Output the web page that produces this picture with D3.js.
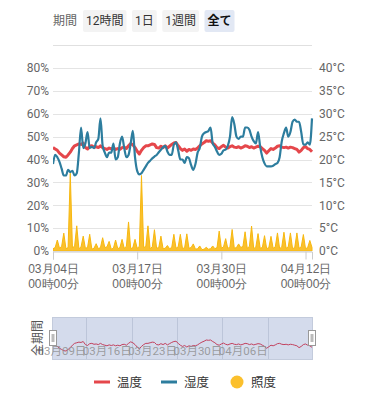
<!DOCTYPE html>
<html><head><meta charset="utf-8">
<script src="https://cdn.jsdelivr.net/npm/d3@7"></script>
<style>
html,body{margin:0;padding:0;background:#fff;}
svg{display:block;font-family:Roboto,"Noto Sans CJK JP",sans-serif;}
</style></head><body>
<svg id="c" width="369" height="400"></svg>
<script>
// ---------------- data ----------------
const periodLabel = "期間";
const periodButtons = ["12時間", "1日", "1週間", "全て"];
const activeButton = "全て";
const startTime = new Date(2024, 2, 4, 0, 0);
const stepHours = 8;
const temperature = [
  22.6,22.3,22.0,21.4,21.0,20.6,20.5,21.0,21.6,22.4,
  23.0,23.2,23.4,23.3,23.6,22.6,22.3,22.9,23.0,22.7,
  22.8,22.6,23.0,22.6,22.4,22.2,22.5,22.3,22.5,22.2,
  22.4,22.2,22.6,22.7,22.4,23.0,23.5,23.2,22.6,21.8,
  21.2,22.0,22.6,23.0,23.0,23.2,23.4,23.3,22.6,22.5,
  22.9,22.6,23.0,22.5,22.9,23.3,23.6,23.7,23.0,22.4,
  22.0,22.3,21.8,22.2,22.0,22.3,22.2,22.5,23.0,23.4,
  23.7,24.1,24.0,24.1,23.6,23.2,22.6,22.4,22.8,23.1,
  22.7,22.5,22.8,23.0,22.7,22.6,22.8,22.5,22.7,23.0,
  22.9,22.6,22.8,22.5,22.7,22.9,22.8,22.4,22.0,21.4,
  21.9,22.4,22.2,22.5,22.9,23.0,22.7,22.6,22.7,22.5,
  22.7,22.6,22.4,22.2,21.6,22.0,22.6,22.8,22.4,22.2,
  21.7];
const humidity = [
  38,42,41,39,36,33,33,35.5,34.5,35,
  33,34,43,54,45,47,52,45,45.5,45,
  47.5,49,58,46,43,41,43,43,47,40,
  41,47,50,45,41,42,47,52.5,41,35,
  33.5,34,35.5,37,38.5,39.5,40.5,41.3,42,43.2,
  44.3,45.3,46,43.5,42,42,46.5,47.5,44,40,
  40,38.5,41,40.5,37.5,35.5,38,43,45,50,
  51.5,52,52.5,54,47,45.5,43.5,42,42.5,44,
  44.3,46,50,58.5,55.5,50,49,50,50,54,
  54,53,50,48,47,52,45.5,41,38.3,37,
  37,37,37.3,38,38.5,41,48,51.5,54,50,
  52,56.5,57.4,56.5,56.5,52,46.5,46.5,47.5,46.5,
  58];
const illuminance = [
  1.0,1.5,4.8, 1.2,2.0,7.8, 1.0,1.5,34, 1.5,2.0,11, 1.0,1.8,6.5,
  1.2,1.5,7.3, 0.8,1.2,3.2, 1.0,1.5,5.8, 1.5,1.8,4.2, 0.8,1.2,4.8,
  1.0,1.5,5.1, 1.2,2.0,12.7, 1.0,1.5,5.1, 1.2,2.0,33, 1.5,2.0,11,
  1.0,1.8,9.3, 1.2,1.5,6.5, 1.0,1.2,2.4, 1.0,1.5,7.3, 1.2,1.8,7.3,
  1.0,1.5,7.5, 1.2,1.5,3.1, 0.8,1.0,2.2, 0.6,0.8,1.6, 0.8,1.0,2.2,
  1.0,1.5,8.7, 1.2,1.8,5.4, 1.0,2.0,9.4, 1.2,1.5,3.1, 1.5,2.0,8.4,
  1.2,2.0,10.9, 1.0,1.8,7.6, 1.2,1.5,6.7, 1.0,1.5,6.4, 1.2,1.8,7.9,
  1.0,1.8,8.2, 1.2,1.8,7.9, 1.0,1.5,7.9, 1.2,1.8,7.2, 1.0,1.5,4.6,
  1.5];
const xTickDates = [new Date(2024,2,4), new Date(2024,2,17), new Date(2024,2,30), new Date(2024,3,12)];
const leftTicks = [0,10,20,30,40,50,60,70,80];
const rightTicks = [0,5,10,15,20,25,30,35,40];
const sliderTickDates = [new Date(2024,2,9), new Date(2024,2,16), new Date(2024,2,23), new Date(2024,2,30), new Date(2024,3,6)];
const sliderName = "全期間";
const legendNames = ["温度", "湿度", "照度"];

// ---------------- layout ----------------
const C_TEMP = "#e5474b", C_HUM = "#2d7d9e", C_ILL = "#fbc02d";
const svg = d3.select("#c");
const times = temperature.map((_, i) => new Date(+startTime + i * stepHours * 3600e3));
const endTime = times[times.length - 1];
const L = 53, R = 312, T = 68, B = 251;
const x = d3.scaleTime().domain([startTime, endTime]).range([L, R]);
const yL = d3.scaleLinear().domain([0, 80]).range([B, T]);
const yR = d3.scaleLinear().domain([0, 40]).range([B, T]);

// period buttons
svg.append("text").attr("x", 53).attr("y", 21).attr("dominant-baseline", "central")
  .attr("font-size", 12).attr("fill", "#666").text(periodLabel);
let bx = 83;
periodButtons.forEach(lbl => {
  const g = svg.append("g");
  const active = lbl === activeButton;
  const rect = g.append("rect").attr("y", 10).attr("height", 22).attr("rx", 2)
    .attr("fill", active ? "#e2e8f4" : "#f3f3f3");
  const t = g.append("text").attr("y", 21).attr("dominant-baseline", "central")
    .attr("font-size", 12).attr("font-weight", active ? "bold" : "normal")
    .attr("fill", active ? "#111" : "#333").text(lbl);
  const tw = t.node().getComputedTextLength();
  rect.attr("x", bx).attr("width", tw + 6);
  t.attr("x", bx + 3);
  bx += tw + 6 + 5.5;
});
svg.append("line").attr("x1", 53).attr("x2", 312).attr("y1", 45.5).attr("y2", 45.5)
  .attr("stroke", "#e0e0e0").attr("stroke-width", 1);

// grid
svg.append("g").selectAll("line").data(leftTicks).join("line")
  .attr("x1", L).attr("x2", R)
  .attr("y1", d => Math.round(yL(d)) + 0.5).attr("y2", d => Math.round(yL(d)) + 0.5)
  .attr("stroke", "#e4e4e4").attr("stroke-width", 1);

// axes
const axL = svg.append("g").attr("transform", `translate(${L},0)`)
  .call(d3.axisLeft(yL).tickValues(leftTicks).tickSize(0).tickPadding(4).tickFormat(d => d + "%"));
const axR = svg.append("g").attr("transform", `translate(${R},0)`)
  .call(d3.axisRight(yR).tickValues(rightTicks).tickSize(0).tickPadding(7).tickFormat(d => d + "°C"));
[axL, axR].forEach(a => {
  a.select(".domain").remove();
  a.selectAll("text").attr("font-size", 12).attr("fill", "#666")
    .attr("font-family", "Roboto, 'Noto Sans CJK JP', sans-serif");
});
const axB = svg.append("g").attr("transform", `translate(0,${B + 0.5})`)
  .call(d3.axisBottom(x).tickValues(xTickDates).tickSize(8).tickFormat(""));
axB.select(".domain").attr("stroke", "#ccc");
axB.selectAll(".tick line").attr("stroke", "#ccc");
const fmt1 = d3.timeFormat("%m月%d日"), fmt2 = d3.timeFormat("%H時%M分");
axB.selectAll(".tick").each(function(d) {
  const g = d3.select(this);
  g.append("text").attr("y", 17).attr("dominant-baseline", "central").attr("text-anchor", "middle")
    .attr("font-size", 12).attr("fill", "#666").text(fmt1(d));
  g.append("text").attr("y", 32.5).attr("dominant-baseline", "central").attr("text-anchor", "middle")
    .attr("font-size", 12).attr("fill", "#666").text(fmt2(d));
});

// series
svg.append("clipPath").attr("id", "clip").append("rect")
  .attr("x", L).attr("y", T - 10).attr("width", R - L + 2).attr("height", B - T + 10);
const plot = svg.append("g").attr("clip-path", "url(#clip)");
const area = d3.area().x((d, i) => x(times[i])).y0(yL(0)).y1(d => yL(d));
plot.append("path").datum(illuminance).attr("d", area)
  .attr("fill", C_ILL).attr("stroke", "#f7b80f").attr("stroke-width", 1);
const lineT = d3.line().x((d, i) => x(times[i])).y(d => yR(d));
plot.append("path").datum(temperature).attr("d", lineT)
  .attr("fill", "none").attr("stroke", C_TEMP).attr("stroke-width", 3).attr("stroke-linejoin", "round");
const lineH = d3.line().x((d, i) => x(times[i])).y(d => yL(d)).curve(d3.curveMonotoneX);
plot.append("path").datum(humidity).attr("d", lineH)
  .attr("fill", "none").attr("stroke", C_HUM).attr("stroke-width", 2.2).attr("stroke-linejoin", "round");

// data zoom slider
const sT = 317, sB = 359;
svg.append("rect").attr("x", L - 0.5).attr("y", sT + 0.5).attr("width", R - L + 1).attr("height", sB - sT)
  .attr("fill", "#d4dbec").attr("stroke", "#c3cbdc");
svg.append("g").selectAll("line").data(sliderTickDates).join("line")
  .attr("x1", d => Math.round(x(d)) + 1.5).attr("x2", d => Math.round(x(d)) + 1.5)
  .attr("y1", sT + 1).attr("y2", sB).attr("stroke", "#bcc5d9");
const ys = d3.scaleLinear().domain(d3.extent(temperature)).range([351, 340]);
svg.append("path").datum(temperature)
  .attr("d", d3.line().x((d, i) => x(times[i])).y(d => ys(d)))
  .attr("fill", "none").attr("stroke", "#c2415e").attr("stroke-width", 1);
svg.append("g").selectAll("text").data(sliderTickDates).join("text")
  .attr("x", d => x(d) + 1).attr("y", 351).attr("text-anchor", "end").attr("dominant-baseline", "central")
  .attr("font-size", 11.5).attr("fill", "#8f8f8f").attr("fill-opacity", 0.85).text(d => fmt1(d));
svg.append("text").attr("transform", "translate(38,338) rotate(-90)")
  .attr("text-anchor", "middle").attr("dominant-baseline", "central")
  .attr("font-size", 12).attr("fill", "#555").text(sliderName);
[L, R].forEach(hx => {
  const g = svg.append("g").attr("transform", `translate(${hx},338)`);
  g.append("rect").attr("x", -3.5).attr("y", -7.5).attr("width", 7).attr("height", 15)
    .attr("fill", "#fff").attr("stroke", "#999").attr("stroke-width", 1);
  g.append("rect").attr("x", -1.5).attr("y", -4).attr("width", 3).attr("height", 8)
    .attr("fill", "#bbb");
});

// legend
const lg = svg.append("g");
const legendX = [94, 161, 229];
legendNames.forEach((name, i) => {
  const lx = legendX[i];
  if (i < 2) {
    lg.append("line").attr("x1", lx).attr("x2", lx + 16).attr("y1", 382).attr("y2", 382)
      .attr("stroke", i === 0 ? C_TEMP : C_HUM).attr("stroke-width", 3);
  } else {
    lg.append("circle").attr("cx", lx + 8).attr("cy", 382).attr("r", 6.5).attr("fill", C_ILL);
  }
  lg.append("text").attr("x", lx + (i < 2 ? 23 : 22)).attr("y", 382).attr("dominant-baseline", "central")
    .attr("font-size", 12.5).attr("fill", "#333").text(name);
});
</script>
</body></html>
